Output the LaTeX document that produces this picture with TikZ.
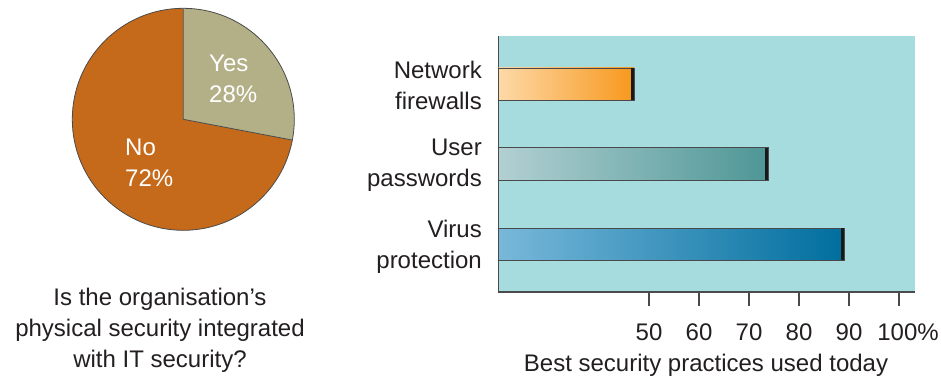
\documentclass[tikz,border=0pt]{standalone}
\usepackage{fontspec}
\setmainfont{Liberation Sans}
\begin{document}
\begin{tikzpicture}[x=1pt,y=1pt,
  txt/.style={text=txtcol,font=\fontsize{24}{31}\selectfont,inner sep=0pt},
  bar/.style={draw=bargray,line width=0.8pt},
  endcap/.style={draw=black!90,line width=3pt},
  axtick/.style={draw=axgray,line width=1.4pt}]
\definecolor{txtcol}{HTML}{231F20}
\definecolor{nocol}{HTML}{C56A1B}
\definecolor{yescol}{HTML}{B3B087}
\definecolor{plotbg}{HTML}{A7DCDE}
\definecolor{bargray}{HTML}{4A4A4A}
\definecolor{axgray}{HTML}{4A4A4A}
\useasboundingbox (0,0) rectangle (941,378);
% pie
\coordinate (c) at (183.3,258.7);
\fill[nocol] (c) -- ++(-10.8:111) arc[start angle=-10.8,end angle=-270,radius=111] -- cycle;
\fill[yescol] (c) -- ++(90:111) arc[start angle=90,end angle=-10.8,radius=111] -- cycle;
\draw[bargray,line width=0.8pt] (c) circle[radius=111];
\draw[bargray,line width=0.8pt] (c) -- ++(90:111) (c) -- ++(-10.8:111);
\node[txt,text=white,align=left,anchor=west] (yes) at (209,299.5) {Yes\\28\%};
\node[txt,text=white,align=left,anchor=west] (no) at (125,215.5) {No\\72\%};
\node[txt,align=center] (q) at (160,48) {Is the organisation’s\\physical security integrated\\with IT security?};
% plot
\fill[plotbg] (498.5,86) rectangle (915,342);
\draw[axgray,line width=1.2pt] (498.5,342) -- (498.5,86) -- (915,86);
\foreach \x/\l in {649/50,699/60,749/70,799/80,849/90}{
  \draw[axtick] (\x,86) -- (\x,72);
  \node[txt] (t\l) at (\x,46) {\l};
}
\draw[axtick] (899,86) -- (899,72);
\node[txt] (t100) at (908,46) {100\%};
\node[txt] (axt) at (706,13) {Best security practices used today};
% bars
\shade[left color={rgb,255:red,253;green,217;blue,168},right color={rgb,255:red,247;green,152;blue,29}] (498.5,278) rectangle (634,310);
\draw[bar] (498.5,278) rectangle (634,310);
\draw[endcap] (632.5,278) -- (632.5,310);
\shade[left color={rgb,255:red,178;green,208;blue,210},right color={rgb,255:red,78;green,150;blue,150}] (498.5,197.7) rectangle (768,230.3);
\draw[bar] (498.5,197.7) rectangle (768,230.3);
\draw[endcap] (766.5,197.7) -- (766.5,230.3);
\shade[left color={rgb,255:red,120;green,184;blue,218},middle color={rgb,255:red,10;green,148;blue,192},right color={rgb,255:red,0;green,110;blue,158}] (498.5,117.7) rectangle (844,150);
\draw[bar] (498.5,117.7) rectangle (844,150);
\draw[endcap] (842.5,117.7) -- (842.5,150);
% labels
\node[txt,align=right,anchor=east] (l1) at (482,292.5) {Network\\firewalls};
\node[txt,align=right,anchor=east] (l2) at (482,212.5) {User\\passwords};
\node[txt,align=right,anchor=east] (l3) at (482,131.5) {Virus\\protection};
\end{tikzpicture}
\end{document}
